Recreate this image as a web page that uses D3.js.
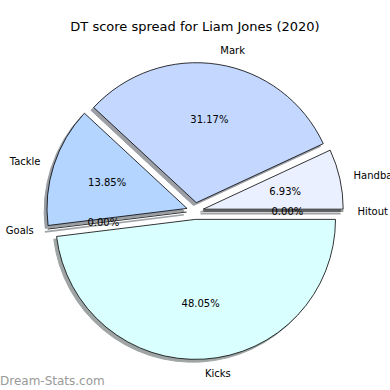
<!DOCTYPE html>
<html>
<head>
<meta charset="utf-8">
<script src="https://cdn.jsdelivr.net/npm/d3@7"></script>
<style>
  html, body { margin: 0; padding: 0; background: #fff; }
  svg text { font-family: "DejaVu Sans", sans-serif; }
</style>
</head>
<body>
<svg id="chart" width="390" height="390"></svg>
<script>
// ---- data ----
const categories = ["Handball", "Mark", "Tackle", "Goals", "Kicks", "Hitout"];
const values = [16, 72, 32, 0, 111, 0];
const colors = ["#eaf0ff", "#c4d8ff", "#b3d5ff", "#c8e6ff", "#d9ffff", "#e0e0ff"];
const title = "DT score spread for Liam Jones (2020)";
const watermark = "Dream-Stats.com";

// ---- layout ----
const W = 390, H = 390;
const cx = 195, cy = 211, R = 140;
const explode = 0.06;
const shadowOff = 0.02;

const svg = d3.select("#chart");
const total = d3.sum(values);
const data = categories.map((c, i) => ({ name: c, value: values[i], color: colors[i] }));

// matplotlib: start at east, counterclockwise  -> d3: start at PI/2, decreasing angle
const pie = d3.pie().sort(null).value(d => d.value)
  .startAngle(Math.PI / 2).endAngle(Math.PI / 2 - 2 * Math.PI);
const arcs = pie(data);
const arc = d3.arc().innerRadius(0).outerRadius(R);

function mid(a) { return (a.startAngle + a.endAngle) / 2; }
function polar(angle, r) { return [r * Math.sin(angle), -r * Math.cos(angle)]; }
function shadowColor(c) {
  const rgb = d3.rgb(c);
  return d3.rgb(rgb.r * 0.3, rgb.g * 0.3, rgb.b * 0.3).toString();
}
function wedgePath(a) {
  if (a.value === 0) {
    const p = polar(a.startAngle, R);
    return d3.line()([[0, 0], p]);
  }
  return arc(a);
}

const g = svg.append("g").attr("transform", `translate(${cx},${cy})`);

// shadows (drawn below all wedges)
const shadows = g.selectAll("g.shadow").data(arcs).enter().append("g")
  .attr("class", "shadow")
  .attr("transform", d => {
    const [ex, ey] = polar(mid(d), explode * R);
    return `translate(${ex - shadowOff * R},${ey + shadowOff * R})`;
  });
shadows.append("path")
  .attr("d", wedgePath)
  .attr("fill", d => d.value === 0 ? "none" : shadowColor(d.data.color))
  .attr("stroke", d => shadowColor(d.data.color))
  .attr("stroke-width", d => d.value === 0 ? 1.6 : 1)
  .attr("opacity", 0.5);

// wedges
const wedges = g.selectAll("g.wedge").data(arcs).enter().append("g")
  .attr("class", "wedge")
  .attr("transform", d => {
    const [ex, ey] = polar(mid(d), explode * R);
    return `translate(${ex},${ey})`;
  });
wedges.append("path")
  .attr("d", wedgePath)
  .attr("fill", d => d.value === 0 ? "none" : d.data.color)
  .attr("stroke", "#000")
  .attr("stroke-width", 0.8)
  .attr("stroke-linejoin", "miter");

// labels
wedges.append("text")
  .attr("x", d => polar(mid(d), 1.1 * R)[0])
  .attr("y", d => polar(mid(d), 1.1 * R)[1])
  .attr("text-anchor", d => polar(mid(d), 1)[0] > 0 ? "start" : "end")
  .attr("dominant-baseline", "central")
  .attr("font-size", 10)
  .attr("fill", "#000")
  .text(d => d.data.name);

// percentages
wedges.append("text")
  .attr("x", d => polar(mid(d), 0.6 * R)[0])
  .attr("y", d => polar(mid(d), 0.6 * R)[1])
  .attr("text-anchor", "middle")
  .attr("dominant-baseline", "central")
  .attr("font-size", 10)
  .attr("fill", "#000")
  .text(d => (100 * d.value / total).toFixed(2) + "%");

// title
svg.append("text")
  .attr("x", W / 2).attr("y", 31)
  .attr("text-anchor", "middle")
  .attr("font-size", 13)
  .attr("fill", "#000")
  .text(title);

// watermark
svg.append("text")
  .attr("x", 0).attr("y", 385)
  .attr("font-size", 12)
  .attr("fill", "#999")
  .text(watermark);
</script>
</body>
</html>
